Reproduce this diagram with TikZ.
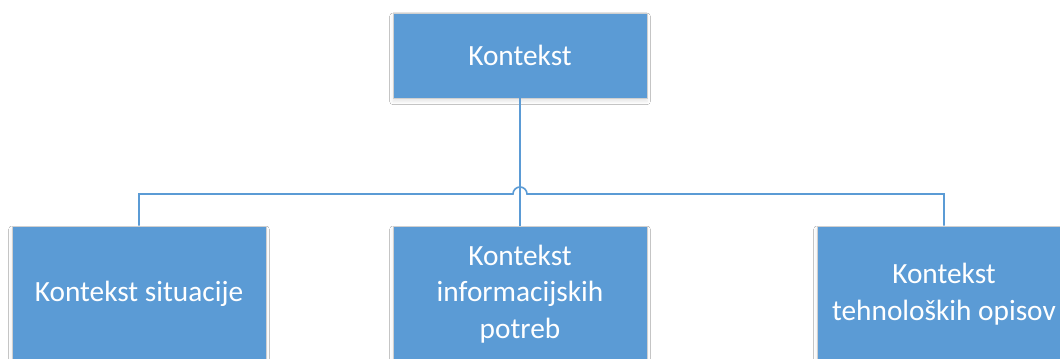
\documentclass[tikz,border=0pt]{standalone}
\usepackage{fontspec}
\setmainfont{Carlito}
\usetikzlibrary{shadows.blur}
\definecolor{boxblue}{HTML}{5B9BD5}
\definecolor{boxedge}{HTML}{D0D0D0}
\tikzset{
  unit/.style={x=0.75pt,y=-0.75pt},
  ctx/.style={draw=boxedge,line width=0.6pt,fill=boxblue,text=white,
    inner sep=0pt,minimum width=190.5pt,align=center,
    font=\fontsize{22}{27.4}\selectfont,
    blur shadow={shadow xshift=0pt,shadow yshift=-2.5pt,shadow blur radius=2.5pt,shadow opacity=10}},
  topbox/.style={ctx,minimum height=63.75pt},
  childbox/.style={ctx,minimum height=102pt},
  link/.style={draw=boxblue,line width=1.2pt}
}
\begin{document}
\begin{tikzpicture}[unit]
  \useasboundingbox (0,0) rectangle (1060,359);
  \clip (0,0) rectangle (1060,359);
  \fill[white] (0,0) rectangle (1060,359);

  \node[topbox] (root) at (520,55.5) {Kontekst};
  \node[childbox] (sit) at (139,294) {Kontekst situacije};
  \node[childbox] (inf) at (520,294) {Kontekst\\informacijskih\\potreb};
  \node[childbox] (teh) at (944,294) {Kontekst\\tehnoloških opisov};

  \coordinate (bus) at (520,194);

  % vertical trunk from the root to the middle child
  \draw[link] (root.south) -- (inf.north);
  % horizontal bus with a hop over the trunk
  \draw[link] (sit.north) -- (sit.north |- bus)
    -- ([xshift=-5.25pt]bus) arc[start angle=180,end angle=0,radius=5.25pt]
    -- (teh.north |- bus) -- (teh.north);
\end{tikzpicture}
\end{document}
